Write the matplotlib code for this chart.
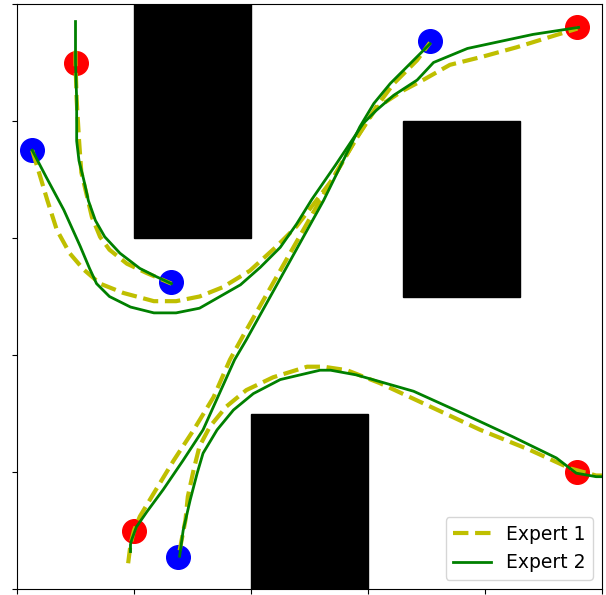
import matplotlib
matplotlib.use("Agg")
from matplotlib import pyplot as plt
from matplotlib.patches import Rectangle

# Prekazky (x, y, sirka, vyska)
prekazky_x = [1.0, 3.3, 2.0]
prekazky_y = [3.0, 2.5, 0.0]
prekazky_w = [1.0, 1.0, 1.0]
prekazky_h = [2.0, 1.5, 1.5]

# Startovacie a cielove body
cervene_x = [0.50, 4.79, 4.79, 1.00]
cervene_y = [4.50, 4.80, 1.00, 0.50]
modre_x = [0.13, 1.32, 3.53, 1.38]
modre_y = [3.75, 2.62, 4.68, 0.27]

# Expert 1 - trajektorie
e1_a_x = [0.50, 0.50, 0.51, 0.53, 0.55, 0.60, 0.64, 0.71, 0.79, 0.94, 1.11, 1.32]
e1_a_y = [4.60, 4.50, 4.18, 3.84, 3.56, 3.35, 3.18, 3.01, 2.90, 2.78, 2.70, 2.61]
e1_b_x = [0.13, 0.20, 0.26, 0.34, 0.45, 0.57, 0.71, 0.91, 1.17, 1.36, 1.56, 1.76, 1.99, 2.22, 2.39,
          2.68, 2.90, 3.07, 3.30, 3.47, 3.70, 3.98, 4.27, 4.56, 4.79]
e1_b_y = [3.75, 3.52, 3.32, 3.07, 2.87, 2.73, 2.61, 2.53, 2.46, 2.46, 2.50, 2.58, 2.72, 2.93, 3.10,
          3.48, 3.85, 4.11, 4.26, 4.35, 4.48, 4.55, 4.63, 4.72, 4.79]
e1_c_x = [0.95, 0.97, 1.00, 1.05, 1.17, 1.34, 1.51, 1.68, 1.82, 1.93, 2.59, 2.90, 3.07, 3.22, 3.42,
          3.53]
e1_c_y = [0.22, 0.38, 0.50, 0.62, 0.82, 1.10, 1.36, 1.64, 1.96, 2.16, 3.32, 3.85, 4.12, 4.32, 4.52,
          4.67]
e1_d_x = [1.39, 1.44, 1.46, 1.51, 1.56, 1.65, 1.79, 1.96, 2.19, 2.48, 2.62, 2.82, 3.10, 3.53, 3.96, 4.38,
          4.73, 4.95, 5.00]
e1_d_y = [0.33, 0.59, 0.79, 1.02, 1.22, 1.39, 1.56, 1.70, 1.81, 1.90, 1.90, 1.87, 1.76, 1.56, 1.36, 1.19,
          1.03, 0.97, 0.97]

# Expert 2 - trajektorie
e2_a_x = [0.50, 0.50, 0.51, 0.51, 0.53, 0.57, 0.61, 0.67, 0.75, 0.88, 1.05, 1.19, 1.32]
e2_a_y = [4.85, 4.50, 4.18, 3.83, 3.66, 3.50, 3.32, 3.15, 3.01, 2.87, 2.74, 2.67, 2.61]
e2_b_x = [0.13, 0.25, 0.40, 0.54, 0.62, 0.68, 0.79, 0.97, 1.17, 1.36, 1.56, 1.91, 2.08, 2.25, 2.39,
          2.52, 2.72, 2.96, 3.07, 3.22, 3.42, 3.56, 3.85, 4.13, 4.41, 4.80]
e2_b_y = [3.75, 3.52, 3.24, 2.93, 2.74, 2.61, 2.50, 2.41, 2.36, 2.36, 2.40, 2.60, 2.75, 2.92, 3.12,
          3.33, 3.62, 3.98, 4.09, 4.22, 4.35, 4.50, 4.62, 4.68, 4.74, 4.80]
e2_c_x = [0.97, 0.97, 0.98, 1.02, 1.11, 1.25, 1.42, 1.59, 1.86, 1.96, 2.62, 2.93, 3.05, 3.19, 3.36,
          3.53]
e2_c_y = [0.32, 0.38, 0.42, 0.53, 0.66, 0.85, 1.10, 1.36, 1.96, 2.13, 3.32, 3.95, 4.15, 4.32, 4.49,
          4.66]
e2_d_x = [1.39, 1.42, 1.48, 1.54, 1.59, 1.71, 1.85, 2.02, 2.25, 2.59, 2.68, 2.90, 3.39, 3.81, 4.24, 4.61,
          4.78, 4.95, 5.00]
e2_d_y = [0.28, 0.50, 0.76, 0.99, 1.16, 1.36, 1.53, 1.67, 1.79, 1.87, 1.87, 1.83, 1.69, 1.50, 1.30, 1.12,
          0.99, 0.96, 0.96]


fig = plt.figure(figsize=(6.06, 5.95), dpi=100)
ax = fig.add_axes([17 / 606, 6 / 595, 585 / 606, 585 / 595])

for x, y, w, h in zip(prekazky_x, prekazky_y, prekazky_w, prekazky_h):
    ax.add_patch(Rectangle((x, y), w, h, color="k"))

ax.plot(cervene_x, cervene_y, "ro", markersize=17, linestyle="none")
ax.plot(modre_x, modre_y, "bo", markersize=17, linestyle="none")

ax.plot(e1_a_x, e1_a_y, "y--", lw=3, label="Expert 1")
ax.plot(e1_b_x, e1_b_y, "y--", lw=3)
ax.plot(e1_c_x, e1_c_y, "y--", lw=3)
ax.plot(e1_d_x, e1_d_y, "y--", lw=3)

ax.plot(e2_a_x, e2_a_y, "g-", lw=2, label="Expert 2")
ax.plot(e2_b_x, e2_b_y, "g-", lw=2)
ax.plot(e2_c_x, e2_c_y, "g-", lw=2)
ax.plot(e2_d_x, e2_d_y, "g-", lw=2)

ax.set_xlim(0, 5)
ax.set_ylim(0, 5)
ax.set_xticks(range(6))
ax.set_yticks(range(6))
ax.set_xticklabels([])
ax.set_yticklabels([])
ax.legend(loc="lower right", fontsize=13.5)

fig.savefig("out.png", dpi=100)
